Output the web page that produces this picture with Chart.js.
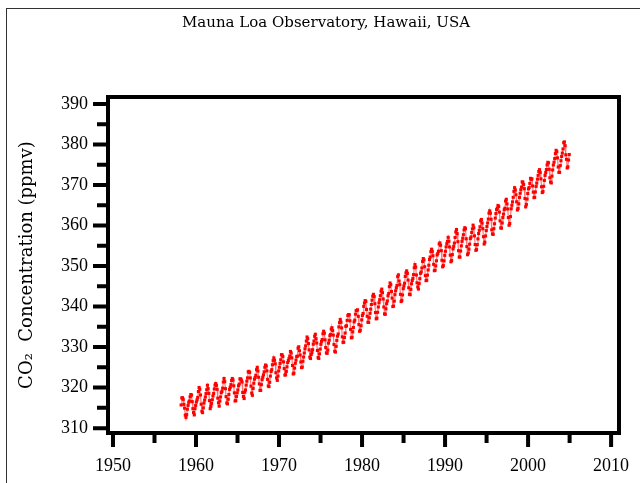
<!DOCTYPE html>
<html>
<head>
<meta charset="utf-8">
<title>Mauna Loa CO2</title>
<script src="https://cdn.jsdelivr.net/npm/chart.js@4.4.1/dist/chart.umd.min.js"></script>
<style>
    html, body { margin: 0; padding: 0; background: #fff; }
    #wrap { position: relative; width: 640px; height: 483px; overflow: hidden; }
    #edge { position: absolute; left: 6px; top: 8px; width: 700px; height: 600px;
            border-top: 1px solid #333; border-left: 1px solid #333; }
    #co2 { position: absolute; left: 0; top: 0; }
</style>
</head>
<body>
<div id="wrap">
    <div id="edge"></div>
    <canvas id="co2" width="640" height="483"></canvas>
</div>
<script>
// monthly means (ppmv), first value is March 1958
var firstYear = 1958, firstMonth = 3;

var co2_1950s = [315.71, 317.45, 317.50, 317.10, 315.86, 314.93, 313.20, 312.66, 313.33, 314.67,
    315.62, 316.38, 316.71, 317.72, 318.29, 318.15, 316.54, 314.80, 313.84, 313.26, 314.80, 315.58];

var co2_1960s = [316.43, 316.97, 317.58, 319.02, 320.03, 319.59, 318.18, 315.91, 314.16, 313.83, 315.00, 316.19,
    316.93, 317.70, 318.54, 319.48, 320.58, 319.77, 318.57, 316.79, 314.80, 315.38, 316.10, 317.01,
    317.94, 318.56, 319.68, 320.63, 321.01, 320.55, 319.58, 317.40, 316.26, 315.42, 316.69, 317.69,
    318.74, 319.08, 319.86, 321.39, 322.25, 321.47, 319.74, 317.77, 316.21, 315.99, 317.12, 318.31,
    319.57, 320.07, 320.73, 321.77, 322.25, 321.89, 320.44, 318.70, 316.70, 316.79, 317.79, 318.71,
    319.44, 320.44, 320.89, 322.13, 322.16, 321.87, 321.39, 318.81, 317.81, 317.30, 318.87, 319.42,
    320.62, 321.59, 322.39, 323.87, 324.01, 323.75, 322.39, 320.37, 318.64, 318.10, 319.79, 321.08,
    322.07, 322.50, 323.04, 324.42, 325.00, 324.09, 322.55, 320.92, 319.31, 319.31, 320.72, 321.96,
    322.57, 323.15, 323.89, 325.02, 325.57, 325.36, 324.14, 322.03, 320.41, 320.25, 321.31, 322.84,
    324.00, 324.42, 325.64, 326.66, 327.34, 326.76, 325.88, 323.67, 322.38, 321.78, 322.85, 324.11];

var co2_1970s = [325.03, 325.99, 326.87, 328.13, 328.07, 327.66, 326.35, 324.69, 323.10, 323.16, 323.98, 325.13,
    326.17, 326.68, 327.18, 327.78, 328.92, 328.57, 327.34, 325.46, 323.36, 323.57, 324.80, 326.01,
    326.77, 327.63, 327.75, 329.72, 330.07, 329.09, 328.05, 326.32, 324.93, 325.06, 326.50, 327.55,
    328.54, 329.56, 330.30, 331.50, 332.48, 332.07, 330.87, 329.31, 327.51, 327.18, 328.16, 328.64,
    329.35, 330.71, 331.48, 332.65, 333.16, 332.06, 330.99, 329.17, 327.41, 327.20, 328.33, 329.50,
    330.68, 331.41, 331.85, 333.29, 333.91, 333.40, 331.78, 329.88, 328.57, 328.46, 329.26, 330.97,
    331.71, 332.80, 333.10, 334.44, 334.78, 334.06, 332.95, 330.64, 328.96, 328.77, 330.18, 331.65,
    332.69, 333.23, 334.97, 336.03, 336.82, 336.13, 334.73, 332.52, 331.19, 331.19, 332.35, 333.47,
    335.11, 335.26, 336.60, 337.77, 338.00, 337.99, 336.48, 334.37, 332.27, 332.41, 333.76, 334.83,
    336.21, 336.64, 338.12, 339.02, 339.02, 339.20, 337.58, 335.55, 333.89, 334.14, 335.26, 336.71];

var co2_1980s = [337.81, 338.29, 340.04, 340.86, 341.47, 341.26, 339.29, 337.60, 336.12, 336.08, 337.22, 338.34,
    339.36, 340.51, 341.57, 342.56, 343.01, 342.47, 340.71, 338.52, 336.96, 337.13, 338.58, 339.89,
    340.93, 341.69, 342.69, 343.79, 344.30, 343.43, 341.88, 339.89, 338.19, 338.09, 339.44, 340.70,
    341.37, 342.65, 343.21, 344.92, 345.81, 345.38, 343.71, 342.09, 340.00, 340.12, 341.33, 342.94,
    343.87, 344.60, 345.20, 347.36, 347.81, 346.30, 345.41, 343.01, 341.23, 341.52, 342.86, 344.41,
    345.09, 345.75, 347.43, 348.30, 348.80, 348.18, 346.54, 344.63, 343.03, 342.92, 344.24, 345.62,
    346.43, 346.94, 347.88, 349.57, 350.35, 349.72, 347.78, 345.86, 344.84, 344.32, 345.67, 346.88,
    348.19, 348.55, 349.52, 351.12, 351.84, 351.49, 349.82, 347.63, 346.38, 346.49, 347.75, 349.03,
    350.20, 351.61, 352.22, 353.53, 354.14, 353.62, 352.53, 350.41, 348.84, 348.94, 350.04, 351.29,
    352.72, 353.10, 353.65, 355.43, 355.70, 355.11, 353.79, 351.42, 349.81, 350.11, 351.26, 352.63];

var co2_1990s = [353.64, 354.72, 355.49, 356.09, 357.08, 356.11, 354.70, 352.68, 351.05, 351.36, 352.81, 354.22,
    354.85, 355.66, 357.04, 358.40, 359.00, 357.99, 356.00, 353.78, 352.20, 352.22, 353.70, 354.98,
    356.09, 356.85, 357.73, 358.91, 359.45, 359.19, 356.72, 354.79, 352.79, 353.20, 354.15, 355.39,
    356.77, 357.17, 358.26, 359.16, 360.07, 359.41, 357.44, 355.30, 353.87, 354.04, 355.27, 356.70,
    358.00, 358.81, 359.68, 361.13, 361.48, 360.60, 359.20, 357.23, 355.42, 355.89, 357.41, 358.74,
    359.73, 360.61, 361.58, 363.05, 363.62, 363.03, 361.55, 358.94, 357.93, 357.80, 359.22, 360.42,
    361.83, 362.94, 363.91, 364.28, 364.94, 364.70, 363.31, 361.15, 359.40, 359.34, 360.62, 361.96,
    362.81, 363.87, 364.25, 366.02, 366.46, 365.32, 364.07, 361.95, 360.06, 360.49, 362.19, 364.12,
    364.99, 365.82, 366.95, 368.42, 369.33, 368.78, 367.59, 365.84, 363.83, 364.18, 365.34, 366.93,
    367.94, 368.82, 369.46, 370.77, 370.66, 370.10, 369.08, 366.66, 364.60, 365.17, 366.51, 367.89];

var co2_2000s = [369.04, 369.35, 370.38, 371.63, 371.32, 371.53, 369.75, 368.23, 366.87, 366.94, 368.27, 369.64,
    370.46, 371.44, 372.37, 373.33, 373.77, 373.09, 371.51, 369.55, 368.12, 368.38, 369.66, 371.11,
    372.36, 373.09, 373.81, 374.93, 375.58, 375.44, 373.86, 371.77, 370.73, 370.50, 372.18, 373.70,
    374.92, 375.62, 376.51, 377.75, 378.54, 378.20, 376.68, 374.43, 373.11, 373.10, 374.77, 375.97,
    377.03, 377.87, 378.88, 380.42, 380.62, 379.70, 377.43, 376.32, 374.19, 374.47, 376.15, 377.51];

var yearTicks = [1950, 1960, 1970, 1980, 1990, 2000, 2010];
var ppmTicks = [310, 320, 330, 340, 350, 360, 370, 380, 390];

var serif = "'Liberation Serif', 'DejaVu Serif', serif";
var wideSerif = "'DejaVu Serif', 'Liberation Serif', serif";

var monthly = co2_1950s.concat(co2_1960s, co2_1970s, co2_1980s, co2_1990s, co2_2000s);
var points = monthly.map(function (v, i) {
    return {x: firstYear + (firstMonth - 1 + i + 0.5) / 12, y: v};
});

// thick box round the plot and outward tick marks (long on labelled ticks)
var framePlugin = {
    id: 'frame',
    afterDraw: function (chart) {
        var ctx = chart.ctx, a = chart.chartArea;
        var xs = chart.scales.x, ys = chart.scales.y;
        ctx.save();
        ctx.strokeStyle = '#000';
        ctx.lineWidth = 4;
        ctx.strokeRect(a.left, a.top, a.right - a.left, a.bottom - a.top);
        ctx.beginPath();
        xs.ticks.forEach(function (t) {
            var px = xs.getPixelForValue(t.value);
            var len = yearTicks.indexOf(t.value) >= 0 ? 14 : 10;
            ctx.moveTo(px, a.bottom);
            ctx.lineTo(px, a.bottom + len);
        });
        ys.ticks.forEach(function (t) {
            var py = ys.getPixelForValue(t.value);
            var len = ppmTicks.indexOf(t.value) >= 0 ? 15 : 11;
            ctx.moveTo(a.left, py);
            ctx.lineTo(a.left - len, py);
        });
        ctx.stroke();
        ctx.restore();
    }
};

var ctx = document.getElementById('co2').getContext('2d');
var chart = new Chart(ctx, {
    type: 'scatter',
    data: {
        datasets: [{
            data: points,
            showLine: true,
            borderColor: 'rgba(255, 0, 0, 0.55)',
            borderWidth: 1.2,
            pointStyle: 'rect',
            pointRadius: 2.2,
            pointBorderWidth: 0,
            pointBackgroundColor: '#ff0000',
            tension: 0
        }]
    },
    options: {
        responsive: false,
        animation: false,
        layout: {padding: {left: 33, right: 21, top: 0, bottom: 0}},
        plugins: {
            legend: {display: false},
            tooltip: {enabled: false},
            title: {
                display: true,
                text: 'Mauna Loa Observatory, Hawaii, USA',
                color: '#000',
                font: {family: wideSerif, size: 15, weight: 'normal'},
                padding: {top: 14, bottom: 65}
            }
        },
        scales: {
            x: {
                type: 'linear',
                min: 1949.4,
                max: 2010.95,
                afterFit: function (scale) { scale.height = 50; },
                border: {display: false},
                grid: {drawOnChartArea: false, tickLength: 14, tickColor: 'rgba(0,0,0,0)'},
                ticks: {
                    stepSize: 5,
                    includeBounds: false,
                    autoSkip: false,
                    maxRotation: 0,
                    padding: 8,
                    color: '#000',
                    font: {family: serif, size: 18},
                    callback: function (v) { return yearTicks.indexOf(v) >= 0 ? String(v) : ''; }
                }
            },
            y: {
                min: 308.8,
                max: 391.7,
                afterFit: function (scale) { scale.width = 75; },
                border: {display: false},
                grid: {drawOnChartArea: false, tickLength: 14, tickColor: 'rgba(0,0,0,0)'},
                title: {
                    display: true,
                    text: 'CO\u2082  Concentration (ppmv)',
                    color: '#000',
                    font: {family: wideSerif, size: 18},
                    padding: {top: -16, bottom: 0}
                },
                ticks: {
                    stepSize: 5,
                    includeBounds: false,
                    autoSkip: false,
                    padding: 6,
                    color: '#000',
                    font: {family: serif, size: 18},
                    callback: function (v) { return ppmTicks.indexOf(v) >= 0 ? String(v) : ''; }
                }
            }
        }
    },
    plugins: [framePlugin]
});
</script>
</body>
</html>
